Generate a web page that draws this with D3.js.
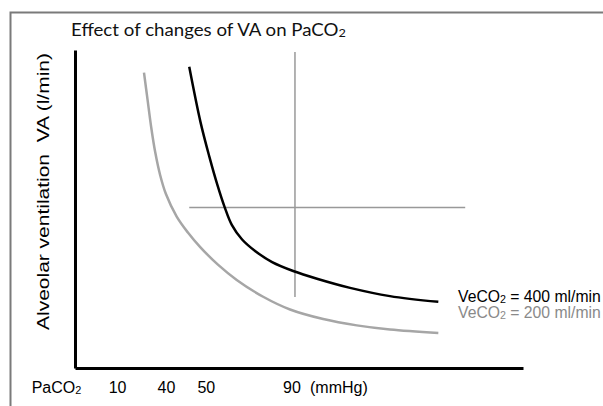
<!DOCTYPE html>
<html>
<head>
<meta charset="utf-8">
<script src="https://cdn.jsdelivr.net/npm/d3@7"></script>
<style>
  body { margin: 0; background: #fff; }
  svg { display: block; }
  text { white-space: pre; }
</style>
</head>
<body>
<svg id="chart"></svg>
<script>
var width = 603,
    height = 406;

// schematic units: x = PaCO2 position, y = alveolar ventilation (0..100 both)
var black400 = [
  [25.5, 94.7], [28.0, 77.4], [30.0, 66.4], [31.8, 57.5], [33.4, 50.6],
  [35.0, 45.0], [37.3, 40.4], [40.2, 36.8], [44.0, 33.3], [48.7, 30.5],
  [54.2, 28.0], [61.4, 25.2], [70.3, 22.6], [81.1, 20.8]
];
var grey200 = [
  [15.4, 92.9], [16.2, 84.3], [17.0, 75.8], [17.9, 67.9], [19.0, 60.7],
  [20.3, 54.7], [22.7, 47.6], [25.2, 42.6], [27.9, 38.1], [31.9, 32.5],
  [36.1, 27.7], [42.0, 22.4], [48.0, 18.4], [55.4, 15.4], [62.9, 13.4],
  [70.3, 12.1], [81.1, 11.0]
];
var crossV = [[49.1, 99.4], [49.1, 22.3]];
var crossH = [[25.5, 50.5], [87.1, 50.5]];

var tickLabels = ["10", "40", "50", "90"];
var tickPos = [9.4, 20.3, 29.2, 48.3];

var svg = d3.select("#chart")
    .attr("width", width)
    .attr("height", height);

var x = d3.scaleLinear().domain([0, 100]).range([75, 523]);
var y = d3.scaleLinear().domain([0, 100]).range([368, 50]);

// frame (top + left edges of the slide box)
svg.append("path")
    .attr("d", "M10.5," + height + "V12.5H" + width)
    .attr("fill", "none")
    .attr("stroke", "#7a7a7a")
    .attr("stroke-width", 2);

function richText(parent, px, py, parts, opt) {
  var g = parent.append("g");
  var t = g.append("text")
      .attr("font-family", opt.family)
      .attr("font-size", opt.size)
      .attr("fill", opt.fill);
  var shifted = false;
  parts.forEach(function(p) {
    var s = t.append("tspan").text(p.text);
    if (p.sub) { s.attr("font-size", opt.size * 0.68).attr("dy", 1); shifted = true; }
    else if (shifted) { s.attr("dy", -1); shifted = false; }
  });
  var sx = 1;
  if (opt.width) sx = opt.width / t.node().getComputedTextLength();
  g.attr("transform", "translate(" + px + "," + py + ")" +
      (opt.rotate ? " rotate(" + opt.rotate + ")" : "") +
      " scale(" + sx + ",1)");
  if (opt.anchor === "middle") t.attr("x", -t.node().getComputedTextLength() / 2);
  return g;
}

// title
richText(svg, 71, 36, [{text: "Effect of changes of VA on PaCO"}, {text: "2", sub: true}],
    {family: "Lato, sans-serif", size: 17.5, fill: "#111", width: 275});

// crosshair
var line = d3.line()
    .x(function(d) { return x(d[0]); })
    .y(function(d) { return y(d[1]); });

svg.selectAll(".cross")
    .data([crossV, crossH])
    .enter().append("path")
    .attr("class", "cross")
    .attr("d", line)
    .attr("stroke", "#999")
    .attr("stroke-width", 1.5)
    .attr("fill", "none");

// curves
var curve = d3.line()
    .curve(d3.curveCatmullRom.alpha(0.5))
    .x(function(d) { return x(d[0]); })
    .y(function(d) { return y(d[1]); });

svg.append("path")
    .datum(grey200)
    .attr("d", curve)
    .attr("fill", "none")
    .attr("stroke", "#a6a6a6")
    .attr("stroke-width", 2.5);

svg.append("path")
    .datum(black400)
    .attr("d", curve)
    .attr("fill", "none")
    .attr("stroke", "#000")
    .attr("stroke-width", 2.5);

// axes
var xAxis = d3.axisBottom(x)
    .tickValues(tickPos)
    .tickFormat(function(d, i) { return tickLabels[i]; })
    .tickSize(0)
    .tickSizeOuter(0)
    .tickPadding(14);

var gx = svg.append("g")
    .attr("transform", "translate(0," + y(0) + ")")
    .call(xAxis);
gx.select(".domain").attr("stroke", "#000").attr("stroke-width", 3);
gx.selectAll("text")
    .attr("font-family", "Liberation Sans, Arial, sans-serif")
    .attr("font-size", 16)
    .attr("fill", "#000");

var gy = svg.append("g")
    .attr("transform", "translate(" + x(0) + ",0)")
    .call(d3.axisLeft(y).tickValues([]).tickSizeOuter(0));
gy.select(".domain").attr("stroke", "#000").attr("stroke-width", 3);

richText(svg, 31.7, 393, [{text: "PaCO"}, {text: "2", sub: true}],
    {family: "Liberation Sans, Arial, sans-serif", size: 16, fill: "#000"});
richText(svg, 310, 393, [{text: "(mmHg)"}],
    {family: "Liberation Sans, Arial, sans-serif", size: 16, fill: "#000"});

// y label
richText(svg, 49, 191.5, [{text: "Alveolar ventilation  VA (l/min)"}],
    {family: "Liberation Sans, Arial, sans-serif", size: 16, fill: "#000",
     width: 277, rotate: -90, anchor: "middle"});

// curve labels
richText(svg, 458, 302, [{text: "VeCO"}, {text: "2", sub: true}, {text: " = 400 ml/min"}],
    {family: "Liberation Sans, Arial, sans-serif", size: 16, fill: "#000", width: 143});
richText(svg, 458, 317.5, [{text: "VeCO"}, {text: "2", sub: true}, {text: " = 200 ml/min"}],
    {family: "Liberation Sans, Arial, sans-serif", size: 16, fill: "#8a8a8a", width: 143});
</script>
</body>
</html>
